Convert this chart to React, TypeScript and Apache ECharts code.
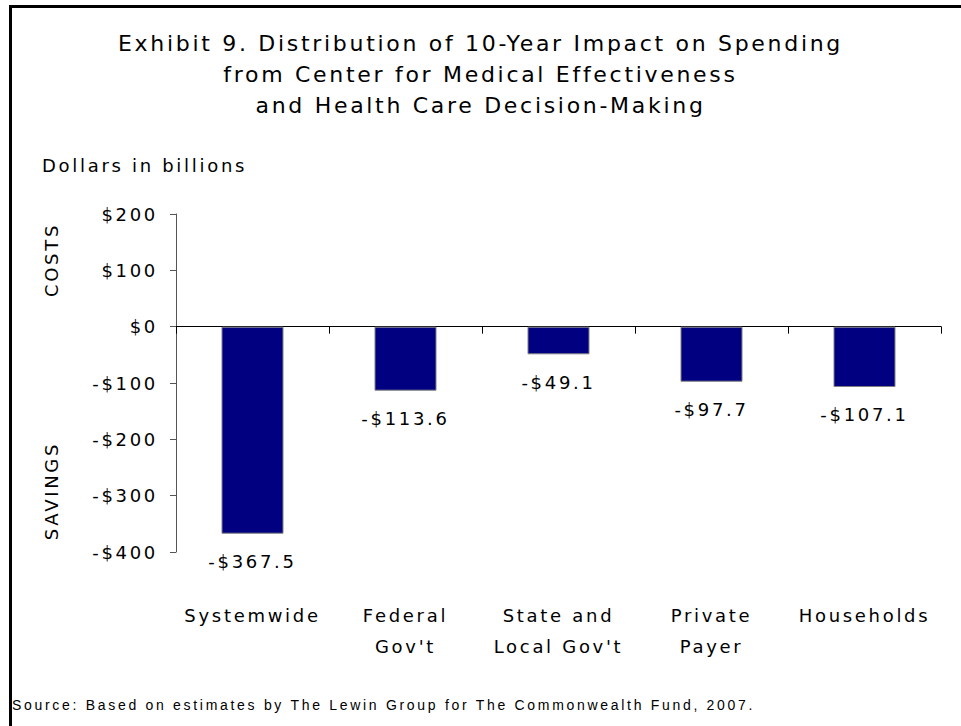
import React, { useEffect, useRef } from "react";
import * as echarts from "echarts";

const categories = ["Systemwide", "Federal\nGov't", "State and\nLocal Gov't", "Private\nPayer", "Households"];
const values = [-367.5, -113.6, -49.1, -97.7, -107.1];
const titleLines = [
  "Exhibit 9. Distribution of 10-Year Impact on Spending",
  "from Center for Medical Effectiveness",
  "and Health Care Decision-Making",
];
const unitLabel = "Dollars in billions";
const sourceText = "Source: Based on estimates by The Lewin Group for The Commonwealth Fund, 2007.";
const yMin = -400;
const yMax = 200;
const yStep = 100;

const FONT = "'DejaVu Sans', Verdana, sans-serif";

const money = (v: number, digits: number) =>
  (v < 0 ? "-$" : "$") + Math.abs(v).toFixed(digits);

export default function App() {
  const ref = useRef<HTMLDivElement>(null);
  useEffect(() => {
    if (!ref.current) return;
    const chart = echarts.init(ref.current, undefined, { renderer: "svg" });
    chart.setOption({
      animation: false,
      backgroundColor: "#fff",
      textStyle: { fontFamily: FONT, color: "#000" },
      title: {
        text: titleLines.join("\n"),
        left: "center",
        top: 23,
        textStyle: { fontFamily: FONT, fontSize: 22, fontWeight: "normal", color: "#000", lineHeight: 31 },
      },
      grid: { left: 176, right: 20, top: 214, bottom: 174, containLabel: false },
      xAxis: [
        {
          type: "category",
          data: categories,
          position: "bottom",
          axisLine: { show: true, onZero: true, lineStyle: { color: "#000", width: 1 } },
          axisTick: { show: true, length: 7, lineStyle: { color: "#000" } },
          axisLabel: { show: false },
          splitLine: { show: false },
        },
        {
          type: "category",
          data: categories,
          position: "bottom",
          axisLine: { show: false, onZero: false },
          axisTick: { show: false },
          axisLabel: {
            show: true,
            interval: 0,
            margin: 48,
            fontFamily: FONT,
            fontSize: 18,
            lineHeight: 31,
            color: "#000",
          },
          splitLine: { show: false },
        },
      ],
      yAxis: {
        type: "value",
        min: yMin,
        max: yMax,
        interval: yStep,
        axisLine: { show: true, lineStyle: { color: "#555", width: 1 } },
        axisTick: { show: true, length: 6, lineStyle: { color: "#555" } },
        axisLabel: {
          margin: 18,
          fontFamily: FONT,
          fontSize: 18,
          color: "#000",
          formatter: (v: number) => money(v, 0),
        },
        splitLine: { show: false },
      },
      series: [
        {
          type: "bar",
          xAxisIndex: 0,
          data: values,
          barWidth: 62,
          itemStyle: { color: "#000080", borderColor: "#808080", borderWidth: 1 },
          label: {
            show: true,
            position: "bottom",
            distance: 19,
            fontFamily: FONT,
            fontSize: 18,
            color: "#000",
            formatter: (p: any) => money(p.value, 1),
          },
        },
      ],
      graphic: [
        { type: "rect", shape: { x: 9, y: 5, width: 952, height: 3 }, style: { fill: "#000" }, silent: true },
        { type: "rect", shape: { x: 9, y: 5, width: 3, height: 721 }, style: { fill: "#000" }, silent: true },
        {
          type: "text",
          x: 42,
          y: 165,
          style: { text: unitLabel, font: `18px ${FONT}`, fill: "#000", verticalAlign: "middle", align: "left" },
        },
        {
          type: "text",
          x: 51,
          y: 260,
          rotation: Math.PI / 2,
          style: { text: "COSTS", font: `18px ${FONT}`, fill: "#000", verticalAlign: "middle", align: "center" },
        },
        {
          type: "text",
          x: 51,
          y: 491,
          rotation: Math.PI / 2,
          style: { text: "SAVINGS", font: `18px ${FONT}`, fill: "#000", verticalAlign: "middle", align: "center" },
        },
        {
          type: "text",
          x: 12,
          y: 705,
          style: {
            text: sourceText,
            font: `14px 'Liberation Sans', Arial, sans-serif`,
            fill: "#000",
            verticalAlign: "middle",
            align: "left",
          },
        },
      ],
    });
    return () => chart.dispose();
  }, []);
  return (
    <div
      ref={ref}
      style={{ position: "fixed", left: 0, top: 0, width: 961, height: 726, letterSpacing: "2.7px" }}
    />
  );
}
